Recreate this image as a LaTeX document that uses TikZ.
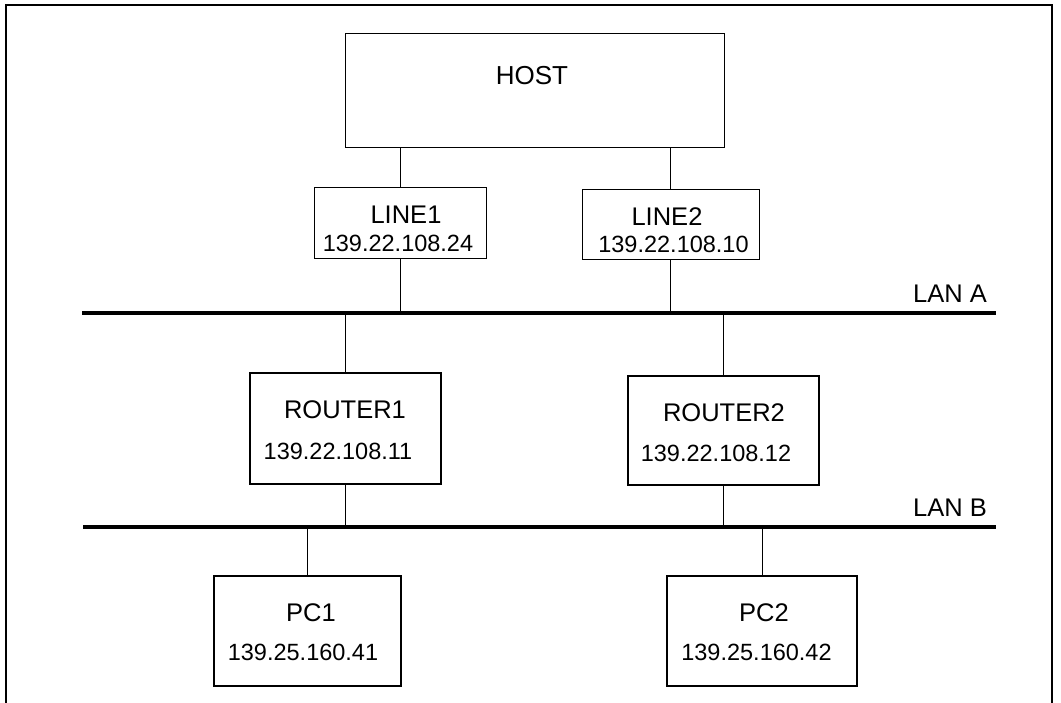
\documentclass[tikz,border=0pt]{standalone}
\usepackage{fontspec}
\setmainfont{Liberation Sans}
\begin{document}
\begin{tikzpicture}[x=1pt, y=-1pt,
  box/.style={draw, line width=1.6pt, inner sep=0pt},
  thinbox/.style={draw, line width=1pt, inner sep=0pt},
  title/.style={anchor=base, inner sep=0pt, font=\fontsize{25.5}{30}\selectfont},
  addr/.style={anchor=base, inner sep=0pt, font=\fontsize{23.5}{28}\selectfont},
  lan/.style={line width=4pt},
  link/.style={line width=0.9pt}]
  \useasboundingbox (0,0) rectangle (1061,703);
  \draw[line width=1.6pt] (6,703) -- (6,5) -- (1052,5) -- (1052,703);
  \node[thinbox, minimum width=379pt, minimum height=114pt] (host) at (534.5,91) {};
  \node[thinbox, minimum width=172pt, minimum height=71pt] (line1) at (400,223.5) {};
  \node[thinbox, minimum width=177pt, minimum height=70pt] (line2) at (670.5,225) {};
  \node[box, minimum width=191pt, minimum height=111pt] (router1) at (345.5,428.5) {};
  \node[box, minimum width=191pt, minimum height=109pt] (router2) at (723.5,430.5) {};
  \node[box, minimum width=187pt, minimum height=110pt] (pc1) at (307.5,631) {};
  \node[box, minimum width=190pt, minimum height=110pt] (pc2) at (762,631) {};
  \node[title, font=\fontsize{26}{30}\selectfont] (hostname) at (532,85) {HOST};
  \node[title] (line1name) at (406,224) {LINE1};
  \node[addr] (line1addr) at (398,252) {139.22.108.24};
  \node[title] (line2name) at (667,226) {LINE2};
  \node[addr] (line2addr) at (673.5,253) {139.22.108.10};
  \node[title] (router1name) at (345,419) {ROUTER1};
  \node[addr] (router1addr) at (338,459) {139.22.108.11};
  \node[title] (router2name) at (724,421) {ROUTER2};
  \node[addr] (router2addr) at (716,461) {139.22.108.12};
  \node[title] (pc1name) at (311,621) {PC1};
  \node[addr] (pc1addr) at (303,660) {139.25.160.41};
  \node[title] (pc2name) at (764,621) {PC2};
  \node[addr] (pc2addr) at (756.5,660) {139.25.160.42};
  \coordinate (lanAw) at (82,313);
  \coordinate (lanAe) at (996,313);
  \coordinate (lanBw) at (83,527);
  \coordinate (lanBe) at (996,527);
  \draw[lan] (lanAw) -- (lanAe);
  \draw[lan] (lanBw) -- (lanBe);
  \node[title] (lanAname) at (950,303) {LAN A};
  \node[title] (lanBname) at (950,516) {LAN B};
  \draw[link] (line1.north) -- (line1.north |- host.south);
  \draw[link] (line2.north) -- (line2.north |- host.south);
  \draw[link] (line1.south) -- (line1.south |- lanAw);
  \draw[link] (line2.south) -- (line2.south |- lanAw);
  \draw[link] (router1.north) -- (router1.north |- lanAw);
  \draw[link] (router2.north) -- (router2.north |- lanAw);
  \draw[link] (router1.south) -- (router1.south |- lanBw);
  \draw[link] (router2.south) -- (router2.south |- lanBw);
  \draw[link] (pc1.north) -- (pc1.north |- lanBw);
  \draw[link] (pc2.north) -- (pc2.north |- lanBw);
\end{tikzpicture}
\end{document}
